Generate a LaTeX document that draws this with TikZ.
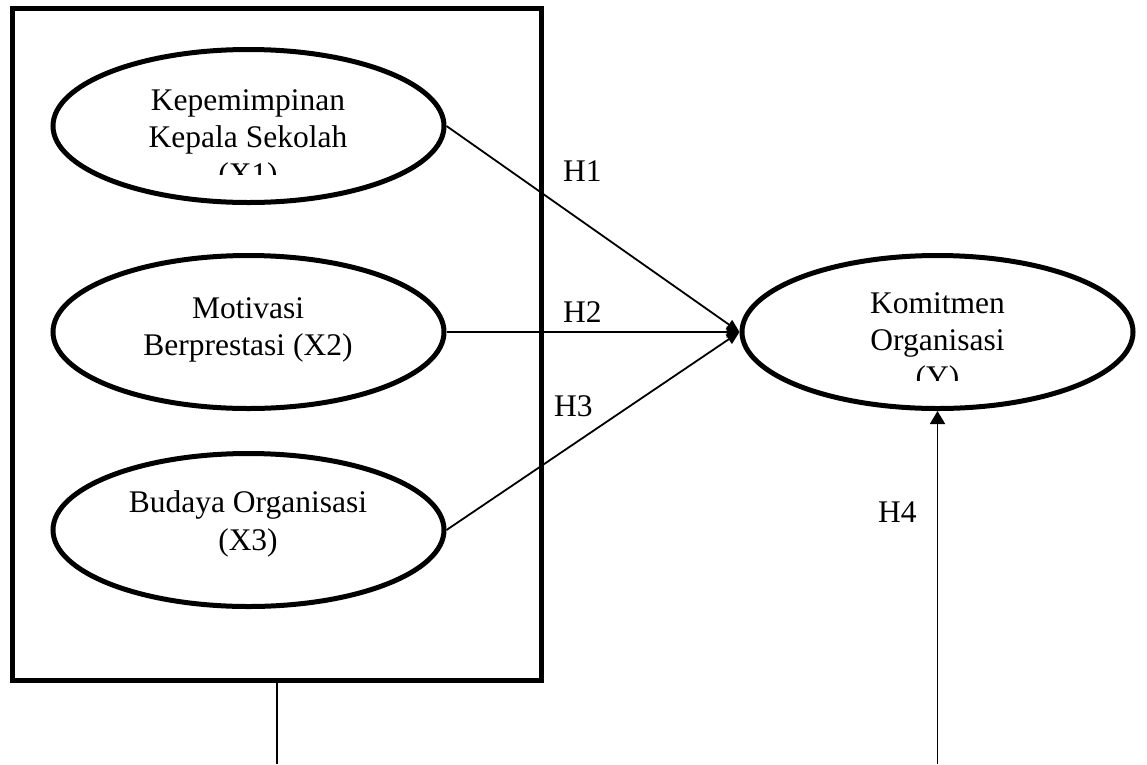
\documentclass[tikz,border=0pt]{standalone}
\usepackage{fontspec}
\setmainfont{Liberation Serif}
\usetikzlibrary{arrows.meta,shapes.geometric}
\begin{document}
\begin{tikzpicture}[x=1pt,y=-1pt,
  ell/.style={draw, ellipse, line width=5pt, minimum width=391pt, minimum height=153pt, inner sep=0pt},
  frame/.style={draw, line width=5pt, minimum width=528.5pt, minimum height=672pt, inner sep=0pt},
  lbl/.style={font=\fontsize{31.5}{37}\selectfont, anchor=base, inner sep=0pt},
  hlbl/.style={font=\fontsize{31.5}{37}\selectfont, anchor=base west, inner sep=0pt},
  conn/.style={line width=1.8pt},
  arr/.style={line width=1.8pt, -{Triangle[length=13pt,width=11pt]}},
  arrb/.style={line width=1.8pt, -{Triangle[length=13pt,width=15pt]}}
]
\useasboundingbox (0,0) rectangle (1147,764);
\node[frame] (box) at (276.75,344) {};
\node[ell] (x1) at (248.5,126) {};
\node[ell] (x2) at (248.5,332) {};
\node[ell] (x3) at (248.5,530) {};
\node[ell] (y) at (937.5,332) {};

\node[lbl] (t1a) at (248,110) {Kepemimpinan};
\node[lbl] (t1b) at (248,147) {Kepala Sekolah};
\begin{scope}
  \clip (100,150) rectangle (400,174);
  \node[lbl] (t1c) at (248,184) {(X1)};
\end{scope}
\node[lbl] (t2a) at (248,318) {Motivasi};
\node[lbl] (t2b) at (248,355) {Berprestasi (X2)};
\node[lbl] (t3a) at (248,512) {Budaya Organisasi};
\node[lbl] (t3b) at (248,550) {(X3)};
\node[lbl] (tya) at (937.5,313) {Komitmen};
\node[lbl] (tyb) at (937.5,350) {Organisasi};
\begin{scope}
  \clip (800,352) rectangle (1080,380);
  \node[lbl] (tyc) at (937.5,387) {(Y)};
\end{scope}

\draw[arr] (x1.east) -- (y.west);
\draw[arr] (x2.east) -- (y.west);
\draw[arr] (x3.east) -- (y.west);

\coordinate (bot1) at (276.75,764);
\coordinate (bot2) at (937.5,764);
\draw[conn] (box.south) -- (bot1);
\draw[arrb] (bot2) -- (y.south);

\node[hlbl] (h1) at (563,181) {H1};
\node[hlbl] (h2) at (563,322) {H2};
\node[hlbl] (h3) at (554,416) {H3};
\node[hlbl] (h4) at (878,522) {H4};
\end{tikzpicture}
\end{document}
